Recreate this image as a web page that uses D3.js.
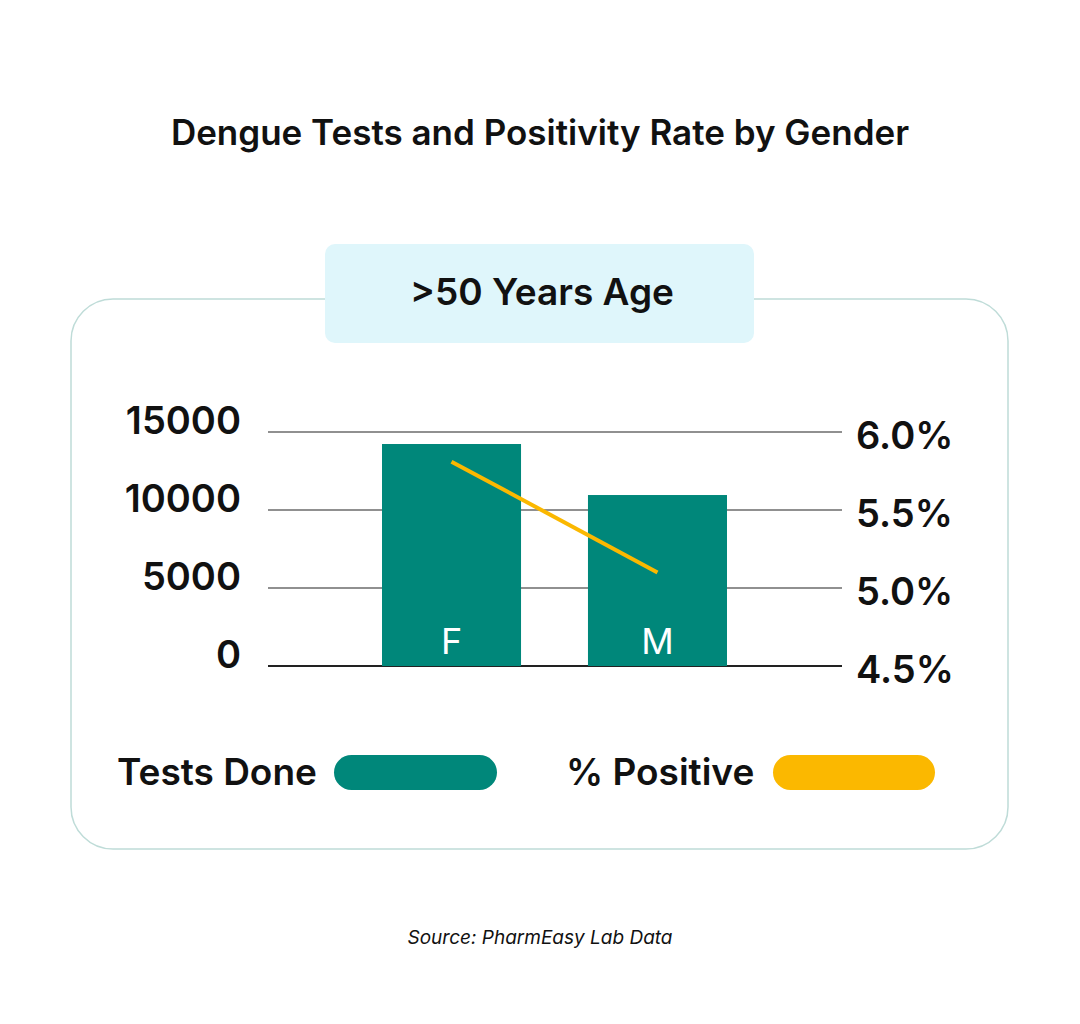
<!DOCTYPE html>
<html><head><meta charset="utf-8">
<script src="https://cdn.jsdelivr.net/npm/d3@7"></script>
<style>body{margin:0;background:#fff}text{font-family:Inter,"Noto Sans",sans-serif}</style>
</head><body><svg id="chart" width="1080" height="1024"></svg>
<script>
const genders = ["F", "M"];
const testsDone = [14230, 10960];
const pctPositive = [5.81, 5.10];
const leftTicks = [0, 5000, 10000, 15000];
const rightTicks = [4.5, 5.0, 5.5, 6.0];

const svg = d3.select("#chart");
const teal = "#00877a", gold = "#fbb800";

svg.append("text").attr("x", 540).attr("y", 145).attr("text-anchor", "middle")
  .attr("font-size", 35).attr("font-weight", 600).attr("fill", "#111")
  .text("Dengue Tests and Positivity Rate by Gender");

// card
svg.append("rect").attr("x", 71).attr("y", 299).attr("width", 937).attr("height", 550)
  .attr("rx", 42).attr("fill", "#fff").attr("stroke", "#bfdcd8").attr("stroke-width", 1.5);
svg.append("rect").attr("x", 325).attr("y", 244).attr("width", 429).attr("height", 99)
  .attr("rx", 10).attr("fill", "#dff6fb");
svg.append("text").attr("x", 542).attr("y", 305).attr("text-anchor", "middle")
  .attr("font-size", 37).attr("font-weight", 600).attr("fill", "#111").text(">50 Years Age");

const x = d3.scaleBand().domain(genders).range([382, 727]).paddingInner(0.325).paddingOuter(0);
const yL = d3.scaleLinear().domain([0, 15000]).range([666, 432]);
const yR = d3.scaleLinear().domain([4.5, 6.0]).range([666, 432]);

// gridlines
svg.append("g").selectAll("line").data(leftTicks).join("line")
  .attr("x1", 268).attr("x2", 842).attr("y1", d => yL(d)).attr("y2", d => yL(d))
  .attr("stroke", "#222").attr("stroke-width", d => d === 0 ? 2 : 1.2);

svg.append("g").selectAll("text").data(leftTicks).join("text")
  .attr("x", 241).attr("y", d => yL(d) + 2).attr("text-anchor", "end")
  .attr("font-size", 38).attr("font-weight", 600).attr("fill", "#111").text(d => d);
svg.append("g").selectAll("text").data(rightTicks).join("text")
  .attr("x", 856).attr("y", d => yR(d) + 17).attr("text-anchor", "start")
  .attr("font-size", 38).attr("font-weight", 600).attr("fill", "#111").text(d => d.toFixed(1) + "%");

// bars
svg.append("g").selectAll("rect").data(genders).join("rect")
  .attr("x", d => x(d)).attr("width", x.bandwidth())
  .attr("y", (d, i) => yL(testsDone[i])).attr("height", (d, i) => yL(0) - yL(testsDone[i]))
  .attr("fill", teal);
svg.append("g").selectAll("text").data(genders).join("text")
  .attr("x", d => x(d) + x.bandwidth() / 2).attr("y", 654).attr("text-anchor", "middle")
  .attr("font-size", 36).attr("fill", "#fff").text(d => d);

// line
const line = d3.line().x((d, i) => x(genders[i]) + x.bandwidth() / 2).y(d => yR(d));
svg.append("path").attr("d", line(pctPositive)).attr("fill", "none")
  .attr("stroke", gold).attr("stroke-width", 4);

// legend
svg.append("text").attr("x", 117).attr("y", 785).attr("font-size", 37).attr("font-weight", 600)
  .attr("fill", "#111").text("Tests Done");
svg.append("rect").attr("x", 334).attr("y", 755).attr("width", 163).attr("height", 35).attr("rx", 17.5).attr("fill", teal);
svg.append("text").attr("x", 566).attr("y", 785).attr("font-size", 37).attr("font-weight", 600)
  .attr("fill", "#111").text("% Positive");
svg.append("rect").attr("x", 773).attr("y", 755).attr("width", 162).attr("height", 35).attr("rx", 17.5).attr("fill", gold);

svg.append("text").attr("x", 540).attr("y", 944).attr("text-anchor", "middle")
  .attr("font-size", 19).attr("font-style", "italic").attr("fill", "#111").text("Source: PharmEasy Lab Data");
</script></body></html>
